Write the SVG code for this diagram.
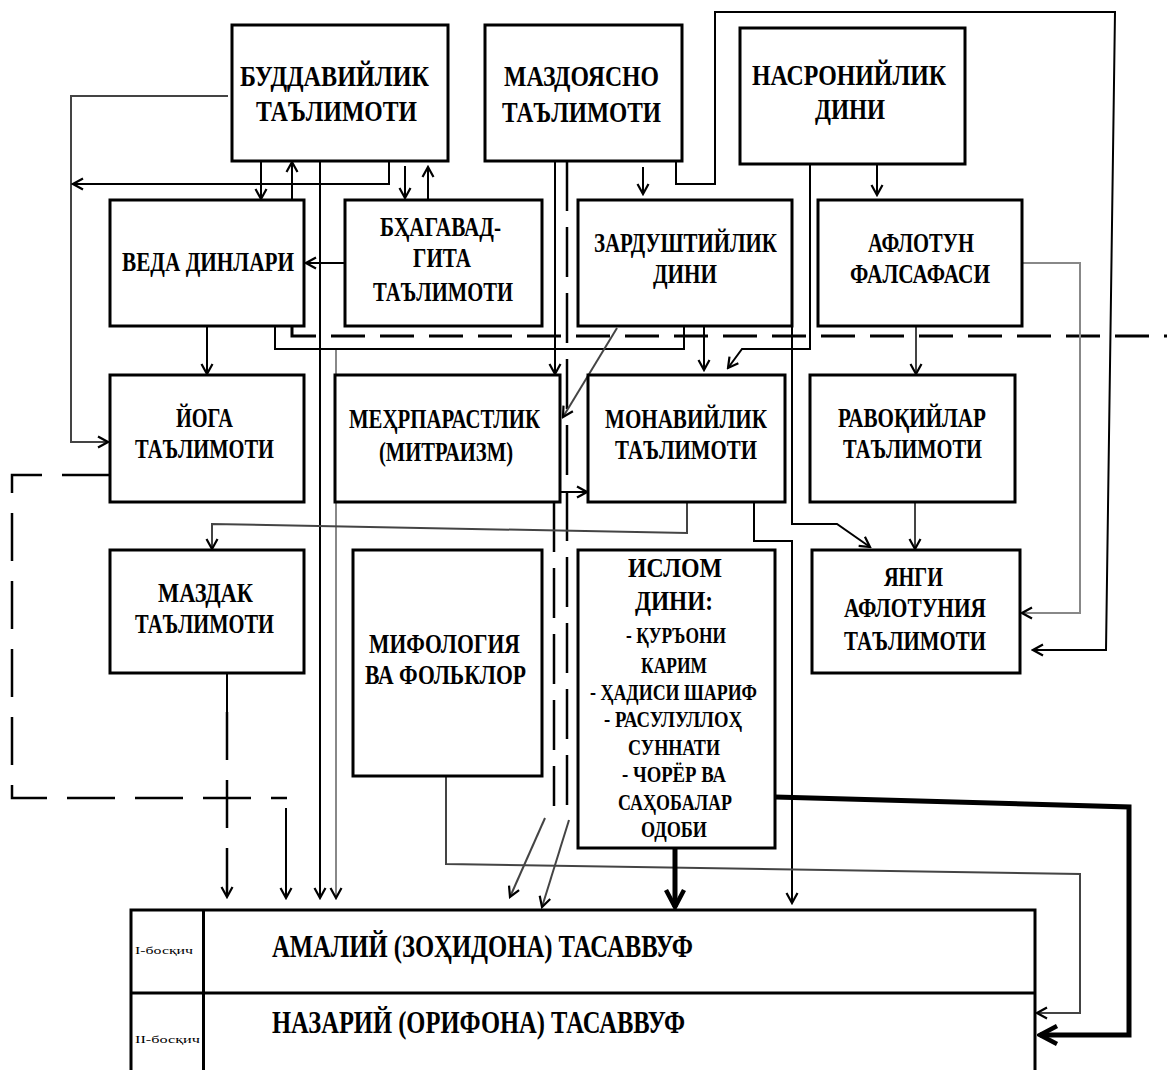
<svg xmlns="http://www.w3.org/2000/svg" width="1167" height="1070" viewBox="0 0 1167 1070">
<style>
.box{fill:#fff;stroke:#000;stroke-width:3}
.t{font-family:"Liberation Serif","Times New Roman",serif;font-weight:bold;font-size:27px;fill:#000}
.b{font-size:30px}
.m{font-size:28px}
.s{font-size:23px}
.xs{font-size:11px;font-weight:normal}
.big{font-size:32px}
.ln{fill:none;stroke:#000;stroke-width:2}
.g{stroke:#444}
.lg{stroke:#888}
.th{stroke-width:5}
.d1{stroke-dasharray:34 15;stroke-width:3}
.d2{stroke-dasharray:50 16;stroke-width:2.5}
.d3{stroke-dasharray:48 20;stroke-width:2.5}
</style>
<defs>
<marker id="a" markerWidth="14" markerHeight="14" refX="12" refY="7" orient="auto" markerUnits="userSpaceOnUse">
<path d="M2,1.5 L12,7 L2,12.5" fill="none" stroke="#000" stroke-width="2.2" stroke-dasharray="none"/>
</marker>
<marker id="at" markerWidth="22" markerHeight="22" refX="19" refY="11" orient="auto" markerUnits="userSpaceOnUse">
<path d="M2,2 L19,11 L2,20" fill="none" stroke="#000" stroke-width="4.5" stroke-dasharray="none"/>
</marker>
</defs>
<rect width="1167" height="1070" fill="#fff"/>

<g id="connectors">
<path class="ln g" d="M228,96 H71 V442 H108" marker-end="url(#a)"/>
<path class="ln" d="M389,161 V184 H73" marker-end="url(#a)"/>
<path class="ln" d="M261,161 V199" marker-end="url(#a)"/>
<path class="ln" d="M292,200 V162" marker-end="url(#a)"/>
<path class="ln" d="M320,161 V898" marker-end="url(#a)"/>
<path class="ln lg" d="M336,349 V898" marker-end="url(#a)"/>
<path class="ln" d="M405,166 V198" marker-end="url(#a)"/>
<path class="ln" d="M428,200 V167" marker-end="url(#a)"/>
<path class="ln" d="M345,263 H306" marker-end="url(#a)"/>
<path class="ln" d="M207,326 V374" marker-end="url(#a)"/>
<path class="ln" d="M275,326 V349 H684 V326"/>
<path class="ln d1" d="M292,326 V336 H1167"/>
<path class="ln" d="M555,161 V374" marker-end="url(#a)"/>
<path class="ln d2" d="M567,161 V820"/>
<path class="ln d2" d="M554,502 V806"/>
<path class="ln g" d="M545,818 L510,897" marker-end="url(#a)"/>
<path class="ln g" d="M569,820 L542,907" marker-end="url(#a)"/>
<path class="ln" d="M643,167 V194" marker-end="url(#a)"/>
<path class="ln" d="M676,161 V184 H715 V12 H1115 L1106,650 H1033" marker-end="url(#a)"/>
<path class="ln" d="M877,164 V195" marker-end="url(#a)"/>
<path class="ln" d="M810,164 V349 H742 L728,368" marker-end="url(#a)"/>
<path class="ln" d="M704,326 V370" marker-end="url(#a)"/>
<path class="ln g" d="M617,328 L563,417" marker-end="url(#a)"/>
<path class="ln" d="M792,326 V524 H837 L870,547" marker-end="url(#a)"/>
<path class="ln g" d="M916,326 V374" marker-end="url(#a)"/>
<path class="ln lg" d="M1022,263 H1080 V613 H1022" marker-end="url(#a)"/>
<path class="ln g" d="M915,502 V549" marker-end="url(#a)"/>
<path class="ln" d="M560,492 H587" marker-end="url(#a)"/>
<path class="ln g" d="M687,502 V533 L212,524 V549" marker-end="url(#a)"/>
<path class="ln" d="M754,502 V541 H792 V903" marker-end="url(#a)"/>
<path class="ln d3" d="M110,475 H12 V798 H287"/>
<path class="ln" d="M286,808 V898" marker-end="url(#a)"/>
<path class="ln" d="M227,673 V712"/>
<path class="ln d3" d="M227,712 V897" marker-end="url(#a)"/>
<path class="ln g" d="M446,776 V864 L1080,874 V1013 H1037" marker-end="url(#a)"/>
<path class="ln th" d="M775,797 L1129,807 V1035 H1040" marker-end="url(#at)"/>
<path class="ln th" d="M675,848 V907" marker-end="url(#at)"/>
</g>

<g id="buddaviylik">
<rect class="box" x="232" y="25" width="216" height="136"/>
<text class="t b" x="240" y="86" textLength="189" lengthAdjust="spacingAndGlyphs">БУДДАВИЙЛИК</text>
<text class="t b" x="256" y="121" textLength="161" lengthAdjust="spacingAndGlyphs">ТАЪЛИМОТИ</text>
</g>
<g id="mazdoyasno">
<rect class="box" x="485" y="25" width="197" height="136"/>
<text class="t b" x="504" y="86" textLength="155" lengthAdjust="spacingAndGlyphs">МАЗДОЯСНО</text>
<text class="t b" x="502" y="122" textLength="159" lengthAdjust="spacingAndGlyphs">ТАЪЛИМОТИ</text>
</g>
<g id="nasroniylik">
<rect class="box" x="740" y="28" width="225" height="136"/>
<text class="t b" x="752" y="85" textLength="194" lengthAdjust="spacingAndGlyphs">НАСРОНИЙЛИК</text>
<text class="t b" x="815" y="119" textLength="70" lengthAdjust="spacingAndGlyphs">ДИНИ</text>
</g>
<g id="veda">
<rect class="box" x="110" y="200" width="194" height="126"/>
<text class="t m" x="122" y="271" textLength="172" lengthAdjust="spacingAndGlyphs">ВЕДА ДИНЛАРИ</text>
</g>
<g id="bhagavad">
<rect class="box" x="345" y="200" width="197" height="126"/>
<text class="t" x="380" y="236" textLength="121" lengthAdjust="spacingAndGlyphs">БҲАГАВАД-</text>
<text class="t" x="413" y="267" textLength="58" lengthAdjust="spacingAndGlyphs">ГИТА</text>
<text class="t" x="373" y="301" textLength="140" lengthAdjust="spacingAndGlyphs">ТАЪЛИМОТИ</text>
</g>
<g id="zardushtiylik">
<rect class="box" x="578" y="200" width="214" height="126"/>
<text class="t" x="594" y="252" textLength="183" lengthAdjust="spacingAndGlyphs">ЗАРДУШТИЙЛИК</text>
<text class="t" x="653" y="283" textLength="64" lengthAdjust="spacingAndGlyphs">ДИНИ</text>
</g>
<g id="aflotun">
<rect class="box" x="818" y="200" width="204" height="126"/>
<text class="t" x="868" y="252" textLength="106" lengthAdjust="spacingAndGlyphs">АФЛОТУН</text>
<text class="t" x="850" y="283" textLength="140" lengthAdjust="spacingAndGlyphs">ФАЛСАФАСИ</text>
</g>
<g id="yoga">
<rect class="box" x="110" y="375" width="194" height="127"/>
<text class="t" x="176" y="427" textLength="57" lengthAdjust="spacingAndGlyphs">ЙОГА</text>
<text class="t" x="135" y="458" textLength="139" lengthAdjust="spacingAndGlyphs">ТАЪЛИМОТИ</text>
</g>
<g id="mehrparastlik">
<rect class="box" x="335" y="375" width="225" height="127"/>
<text class="t m" x="349" y="428" textLength="191" lengthAdjust="spacingAndGlyphs">МЕҲРПАРАСТЛИК</text>
<text class="t m" x="379" y="461" textLength="134" lengthAdjust="spacingAndGlyphs">(МИТРАИЗМ)</text>
</g>
<g id="monaviylik">
<rect class="box" x="588" y="375" width="197" height="127"/>
<text class="t" x="605" y="428" textLength="162" lengthAdjust="spacingAndGlyphs">МОНАВИЙЛИК</text>
<text class="t" x="615" y="459" textLength="142" lengthAdjust="spacingAndGlyphs">ТАЪЛИМОТИ</text>
</g>
<g id="ravoqiylar">
<rect class="box" x="810" y="375" width="205" height="127"/>
<text class="t" x="838" y="427" textLength="148" lengthAdjust="spacingAndGlyphs">РАВОҚИЙЛАР</text>
<text class="t" x="843" y="458" textLength="139" lengthAdjust="spacingAndGlyphs">ТАЪЛИМОТИ</text>
</g>
<g id="mazdak">
<rect class="box" x="110" y="550" width="194" height="123"/>
<text class="t" x="158" y="602" textLength="95" lengthAdjust="spacingAndGlyphs">МАЗДАК</text>
<text class="t" x="135" y="633" textLength="139" lengthAdjust="spacingAndGlyphs">ТАЪЛИМОТИ</text>
</g>
<g id="mifologiya">
<rect class="box" x="353" y="550" width="189" height="226"/>
<text class="t" x="369" y="653" textLength="151" lengthAdjust="spacingAndGlyphs">МИФОЛОГИЯ</text>
<text class="t" x="365" y="684" textLength="161" lengthAdjust="spacingAndGlyphs">ВА ФОЛЬКЛОР</text>
</g>
<g id="islom">
<rect class="box" x="578" y="550" width="197" height="298"/>
<text class="t m" x="628" y="577" textLength="94" lengthAdjust="spacingAndGlyphs">ИСЛОМ</text>
<text class="t m" x="635" y="610" textLength="78" lengthAdjust="spacingAndGlyphs">ДИНИ:</text>
<text class="t s" x="626" y="643" textLength="100" lengthAdjust="spacingAndGlyphs">- ҚУРЪОНИ</text>
<text class="t s" x="641" y="673" textLength="66" lengthAdjust="spacingAndGlyphs">КАРИМ</text>
<text class="t s" x="590" y="700" textLength="167" lengthAdjust="spacingAndGlyphs">- ҲАДИСИ ШАРИФ</text>
<text class="t s" x="604" y="727" textLength="138" lengthAdjust="spacingAndGlyphs">- РАСУЛУЛЛОҲ</text>
<text class="t s" x="628" y="755" textLength="92" lengthAdjust="spacingAndGlyphs">СУННАТИ</text>
<text class="t s" x="622" y="782" textLength="104" lengthAdjust="spacingAndGlyphs">- ЧОРЁР ВА</text>
<text class="t s" x="618" y="810" textLength="114" lengthAdjust="spacingAndGlyphs">САҲОБАЛАР</text>
<text class="t s" x="641" y="837" textLength="66" lengthAdjust="spacingAndGlyphs">ОДОБИ</text>
</g>
<g id="yangi-aflotuniya">
<rect class="box" x="812" y="550" width="208" height="123"/>
<text class="t" x="884" y="586" textLength="59" lengthAdjust="spacingAndGlyphs">ЯНГИ</text>
<text class="t" x="844" y="617" textLength="142" lengthAdjust="spacingAndGlyphs">АФЛОТУНИЯ</text>
<text class="t" x="844" y="650" textLength="142" lengthAdjust="spacingAndGlyphs">ТАЪЛИМОТИ</text>
</g>
<g id="tasavvuf">
<rect class="box" x="131" y="910" width="904" height="180"/>
<path class="ln" style="stroke-width:3" d="M203.5,910 V1070 M131,993 H1035"/>
<text class="t xs" x="135" y="954" textLength="58" lengthAdjust="spacingAndGlyphs">I-босқич</text>
<text class="t xs" x="135" y="1043" textLength="65" lengthAdjust="spacingAndGlyphs">II-босқич</text>
<text class="t big" x="272" y="957" textLength="421" lengthAdjust="spacingAndGlyphs">АМАЛИЙ (ЗОҲИДОНА)  ТАСАВВУФ</text>
<text class="t big" x="272" y="1033" textLength="413" lengthAdjust="spacingAndGlyphs">НАЗАРИЙ (ОРИФОНА) ТАСАВВУФ</text>
</g>
</svg>
